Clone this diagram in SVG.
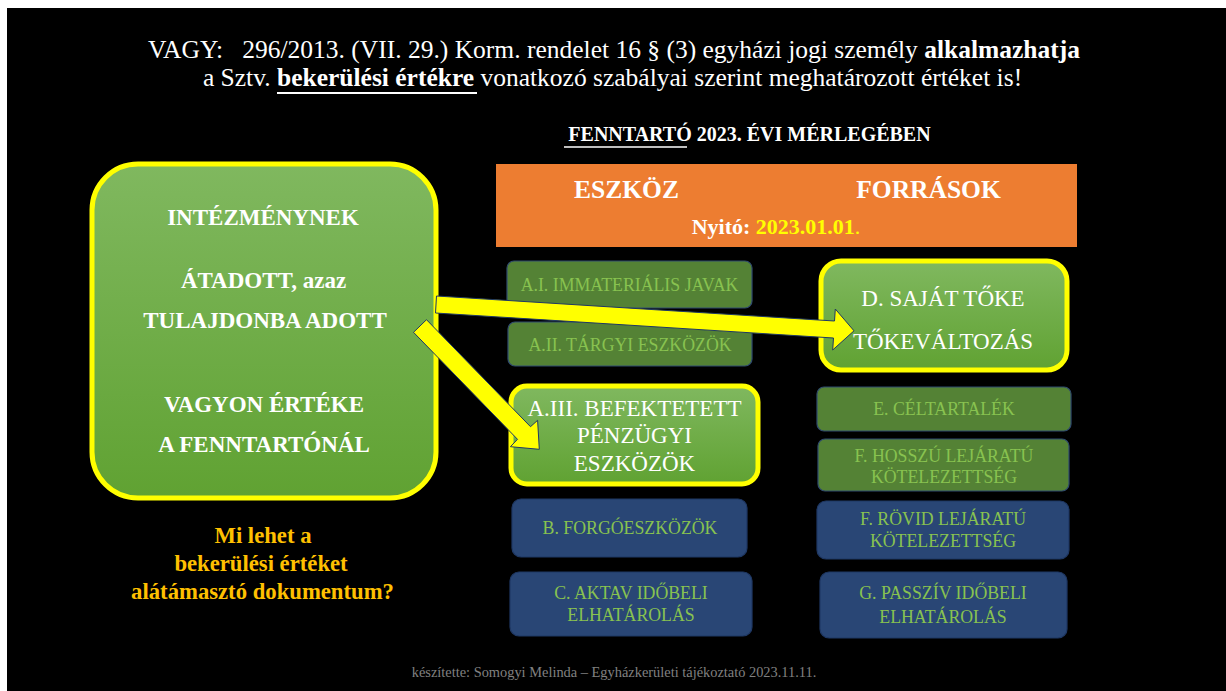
<svg xmlns="http://www.w3.org/2000/svg" width="1226" height="691" viewBox="0 0 1226 691">
<defs>
<linearGradient id="g" x1="0" y1="0" x2="0" y2="1">
<stop offset="0" stop-color="#80B85F"/>
<stop offset="1" stop-color="#60A232"/>
</linearGradient>
<style>
text{font-family:"Liberation Serif","Times New Roman",serif;text-anchor:middle}
.ttl{fill:#fff;font-size:25.5px}
.hl{fill:url(#g);stroke:#FFFF00;stroke-width:5}
.dg{fill:#548235;stroke:#2F4A6E;stroke-width:1.2}
.bl{fill:#294675;stroke:#1F3864;stroke-width:1.2}
.sm{fill:#88C250;font-size:17.8px}
.wt{fill:#fff;font-size:23px}
.bw{fill:#fff;font-weight:bold;font-size:23px}
.q{fill:#FFC000;font-weight:bold;font-size:22.7px}
.arr{fill:#FFFF00;stroke:#1F3864;stroke-width:1}
</style>
</defs>
<rect x="0" y="0" width="1226" height="691" fill="#fff"/>
<rect x="7" y="8" width="1219" height="683" fill="#000"/>

<g id="heading">
<text class="ttl" x="614" y="58" xml:space="preserve">VAGY:   296/2013. (VII. 29.) Korm. rendelet 16 § (3) egyházi jogi személy <tspan font-weight="bold">alkalmazhatja</tspan></text>
<text class="ttl" x="612.5" y="86">a Sztv. <tspan font-weight="bold">bekerülési értékre</tspan> vonatkozó szabályai szerint meghatározott értéket is!</text>
<line x1="277" y1="93" x2="477" y2="93" stroke="#fff" stroke-width="2"/>
</g>

<g id="subtitle">
<text x="749.5" y="141" fill="#fff" font-weight="bold" font-size="20px">FENNTARTÓ 2023. ÉVI MÉRLEGÉBEN</text>
<line x1="564" y1="147" x2="687" y2="147" stroke="#fff" stroke-width="1.5"/>
</g>

<g id="header">
<rect x="496" y="164" width="581" height="83" fill="#ED7D31"/>
<text x="626.5" y="198" fill="#fff" font-weight="bold" font-size="25.5px">ESZKÖZ</text>
<text x="928.5" y="198" fill="#fff" font-weight="bold" font-size="25.5px">FORRÁSOK</text>
<text x="776" y="234" fill="#fff" font-weight="bold" font-size="22px">Nyitó: <tspan fill="#FFFF00">2023.01.01</tspan><tspan fill="#FFFF00" font-weight="normal">.</tspan></text>
</g>

<g id="source">
<rect class="hl" x="92" y="164" width="344" height="334" rx="46"/>
<text class="bw" x="263" y="225">INTÉZMÉNYNEK</text>
<text class="bw" x="263.5" y="288">ÁTADOTT, azaz</text>
<text class="bw" x="265" y="328">TULAJDONBA ADOTT</text>
<text class="bw" x="264" y="412">VAGYON ÉRTÉKE</text>
<text class="bw" x="264" y="452">A FENNTARTÓNÁL</text>
</g>

<g id="question">
<text class="q" x="263" y="543">Mi lehet a</text>
<text class="q" x="261" y="571">bekerülési értéket</text>
<text class="q" x="262.5" y="599">alátámasztó dokumentum?</text>
</g>

<g id="a1">
<rect class="dg" x="507" y="261" width="245" height="47" rx="7"/>
<text class="sm" x="629.5" y="291">A.I. IMMATERIÁLIS JAVAK</text>
</g>
<g id="a2">
<rect class="dg" x="508" y="322" width="244" height="44" rx="7"/>
<text class="sm" x="630" y="351">A.II. TÁRGYI ESZKÖZÖK</text>
</g>
<g id="a3">
<rect class="hl" x="511" y="386" width="247" height="98" rx="16"/>
<text class="wt" x="634.5" y="416">A.III. BEFEKTETETT</text>
<text class="wt" x="634.5" y="443">PÉNZÜGYI</text>
<text class="wt" x="634.5" y="471">ESZKÖZÖK</text>
</g>
<g id="b">
<rect class="bl" x="512" y="499" width="235" height="58" rx="9"/>
<text class="sm" x="630" y="534">B. FORGÓESZKÖZÖK</text>
</g>
<g id="c">
<rect class="bl" x="510" y="572" width="242" height="64" rx="9"/>
<text class="sm" x="631" y="599">C. AKTAV IDŐBELI</text>
<text class="sm" x="631" y="621">ELHATÁROLÁS</text>
</g>

<g id="d">
<rect class="hl" x="821" y="261" width="246" height="109" rx="20"/>
<text class="wt" x="943" y="306">D. SAJÁT TŐKE</text>
<text class="wt" x="943" y="349">TŐKEVÁLTOZÁS</text>
</g>
<g id="e">
<rect class="dg" x="817" y="387" width="254" height="44" rx="7"/>
<text class="sm" x="944" y="415">E. CÉLTARTALÉK</text>
</g>
<g id="fh">
<rect class="dg" x="818" y="439" width="251" height="52" rx="7"/>
<text class="sm" x="944" y="462">F. HOSSZÚ LEJÁRATÚ</text>
<text class="sm" x="944" y="483">KÖTELEZETTSÉG</text>
</g>
<g id="fr">
<rect class="bl" x="817" y="501" width="252" height="58" rx="9"/>
<text class="sm" x="943" y="525">F. RÖVID LEJÁRATÚ</text>
<text class="sm" x="943" y="547">KÖTELEZETTSÉG</text>
</g>
<g id="gp">
<rect class="bl" x="820" y="572" width="247" height="66" rx="9"/>
<text class="sm" x="943" y="599">G. PASSZÍV IDŐBELI</text>
<text class="sm" x="943" y="623">ELHATÁROLÁS</text>
</g>

<g id="connectors">
<polygon class="arr" points="436.5,296 834.5,321 835.3,309 854,330.8 832.7,350 833.5,338 435.5,313"/>
<polygon class="arr" points="426.5,319.7 530.5,426.7 537.6,420.3 539.3,449.3 510.4,446.7 517.5,439.3 413.5,332.3"/>
</g>

<g id="footer">
<text x="614" y="677" fill="#808080" font-size="14.4px">készítette: Somogyi Melinda – Egyházkerületi tájékoztató 2023.11.11.</text>
</g>
</svg>
